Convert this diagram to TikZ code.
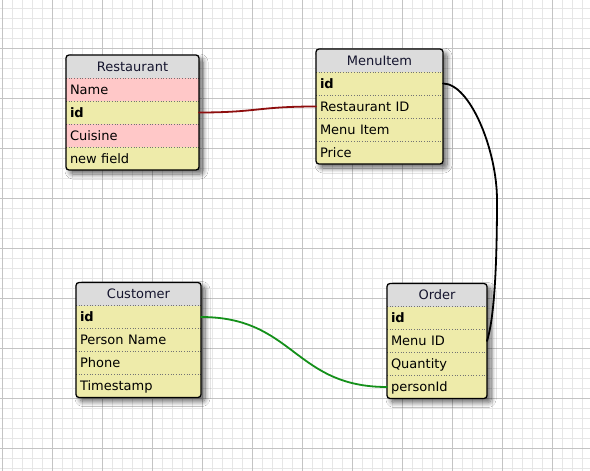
\documentclass[tikz,border=0pt]{standalone}
\usepackage{fontspec}
\setmainfont{DejaVu Sans}
\usetikzlibrary{shadows.blur}

\definecolor{gridminor}{HTML}{E6E6E6}
\definecolor{gridmajor}{HTML}{C4C4C4}
\definecolor{headfill}{HTML}{DCDCDC}
\definecolor{rowfill}{HTML}{EEEBAA}
\definecolor{keyfill}{HTML}{FFC8C8}
\definecolor{headtext}{HTML}{15152E}
\definecolor{linkred}{HTML}{8E0E0E}
\definecolor{linkgreen}{HTML}{14901A}

\tikzset{
  tablebox/.style={rectangle, anchor=north west, inner sep=0pt, outer sep=0pt,
    fill=rowfill, rounded corners=3pt,
    blur shadow={shadow xshift=4pt, shadow yshift=-4pt, shadow blur radius=5pt,
      shadow opacity=60, shadow blur steps=10}},
  cellbase/.style={rectangle, anchor=north west, inner xsep=4pt, inner ysep=0pt,
    outer sep=0pt, minimum height=23pt, text height=9.5pt, text depth=0pt,
    font=\fontsize{13}{15}\selectfont},
  headrow/.style={cellbase, fill=headfill, align=center, text=headtext},
  fieldrow/.style={cellbase, fill=rowfill, align=left, text=black},
  keyrow/.style={cellbase, fill=keyfill, align=left, text=black},
  sep/.style={draw=black!55, line width=0.8pt, dash pattern=on 0.9pt off 1.8pt},
  border/.style={draw=black, line width=1.3pt, rounded corners=3pt},
  link/.style={line width=1.8pt, line cap=round},
  gridmin/.style={draw=gridminor, line width=1pt},
  gridmaj/.style={draw=gridmajor, line width=1pt}
}

\begin{document}
\begin{tikzpicture}[x=1pt, y=-1pt]
\useasboundingbox (0,0) rectangle (590,471);
\fill[white] (0,0) rectangle (590,471);

% background grid: fine lines every 10, heavier lines every 50
\foreach \k in {0,...,58} \draw[gridmin] (2.7+10*\k,0) -- (2.7+10*\k,471);
\foreach \k in {0,...,46} \draw[gridmin] (0,8.3+10*\k) -- (590,8.3+10*\k);
\foreach \k in {0,...,11} \draw[gridmaj] (2.7+50*\k,0) -- (2.7+50*\k,471);
\foreach \k in {0,...,8} \draw[gridmaj] (0,48.3+50*\k) -- (590,48.3+50*\k);

% ---------- Restaurant ----------
\node[tablebox, minimum width=133pt, minimum height=115pt] (rest) at (66,55) {};
\begin{scope}
  \clip[rounded corners=3pt] (rest.north west) rectangle (rest.south east);
  \node[headrow, text width=125pt] (rest-h) at (rest.north west) {Restaurant};
  \node[keyrow, text width=125pt] (rest-name) at (rest-h.south west) {Name};
  \node[fieldrow, text width=125pt] (rest-id) at (rest-name.south west) {\textbf{id}};
  \node[keyrow, text width=125pt] (rest-cuisine) at (rest-id.south west) {Cuisine};
  \node[fieldrow, text width=125pt] (rest-new) at (rest-cuisine.south west) {new field};
\end{scope}
\foreach \r in {rest-h, rest-name, rest-id, rest-cuisine}
  \draw[sep] (\r.south west) -- (\r.south east);
\draw[border] (rest.north west) rectangle (rest.south east);

% ---------- MenuItem ----------
\node[tablebox, minimum width=127pt, minimum height=115pt] (menu) at (316,49) {};
\begin{scope}
  \clip[rounded corners=3pt] (menu.north west) rectangle (menu.south east);
  \node[headrow, text width=119pt] (menu-h) at (menu.north west) {MenuItem};
  \node[fieldrow, text width=119pt] (menu-id) at (menu-h.south west) {\textbf{id}};
  \node[fieldrow, text width=119pt] (menu-rid) at (menu-id.south west) {Restaurant ID};
  \node[fieldrow, text width=119pt] (menu-item) at (menu-rid.south west) {Menu Item};
  \node[fieldrow, text width=119pt] (menu-price) at (menu-item.south west) {Price};
\end{scope}
\foreach \r in {menu-h, menu-id, menu-rid, menu-item}
  \draw[sep] (\r.south west) -- (\r.south east);
\draw[border] (menu.north west) rectangle (menu.south east);

% ---------- Customer ----------
\node[tablebox, minimum width=125pt, minimum height=115pt] (cust) at (76,282.5) {};
\begin{scope}
  \clip[rounded corners=3pt] (cust.north west) rectangle (cust.south east);
  \node[headrow, text width=117pt] (cust-h) at (cust.north west) {Customer};
  \node[fieldrow, text width=117pt] (cust-id) at (cust-h.south west) {\textbf{id}};
  \node[fieldrow, text width=117pt] (cust-name) at (cust-id.south west) {Person Name};
  \node[fieldrow, text width=117pt] (cust-phone) at (cust-name.south west) {Phone};
  \node[fieldrow, text width=117pt] (cust-time) at (cust-phone.south west) {Timestamp};
\end{scope}
\foreach \r in {cust-h, cust-id, cust-name, cust-phone}
  \draw[sep] (\r.south west) -- (\r.south east);
\draw[border] (cust.north west) rectangle (cust.south east);

% ---------- Order ----------
\node[tablebox, minimum width=100pt, minimum height=115pt] (ord) at (387,283.5) {};
\begin{scope}
  \clip[rounded corners=3pt] (ord.north west) rectangle (ord.south east);
  \node[headrow, text width=92pt] (ord-h) at (ord.north west) {Order};
  \node[fieldrow, text width=92pt] (ord-id) at (ord-h.south west) {\textbf{id}};
  \node[fieldrow, text width=92pt] (ord-menu) at (ord-id.south west) {Menu ID};
  \node[fieldrow, text width=92pt] (ord-qty) at (ord-menu.south west) {Quantity};
  \node[fieldrow, text width=92pt] (ord-person) at (ord-qty.south west) {personId};
\end{scope}
\foreach \r in {ord-h, ord-id, ord-menu, ord-qty}
  \draw[sep] (\r.south west) -- (\r.south east);
\draw[border] (ord.north west) rectangle (ord.south east);

% ---------- relations ----------
\draw[link, linkred] (rest-id.east) .. controls +(58,0) and +(-58,0) .. (menu-rid.west);
\draw[link, black] (menu-id.east) .. controls +(27,0) and +(0,-50) .. (497,200)
  .. controls (497,280) and (493,322) .. (ord-menu.east);
\draw[link, linkgreen] (cust-id.east) .. controls +(93,0) and +(-93,0) .. (ord-person.west);
\end{tikzpicture}
\end{document}
